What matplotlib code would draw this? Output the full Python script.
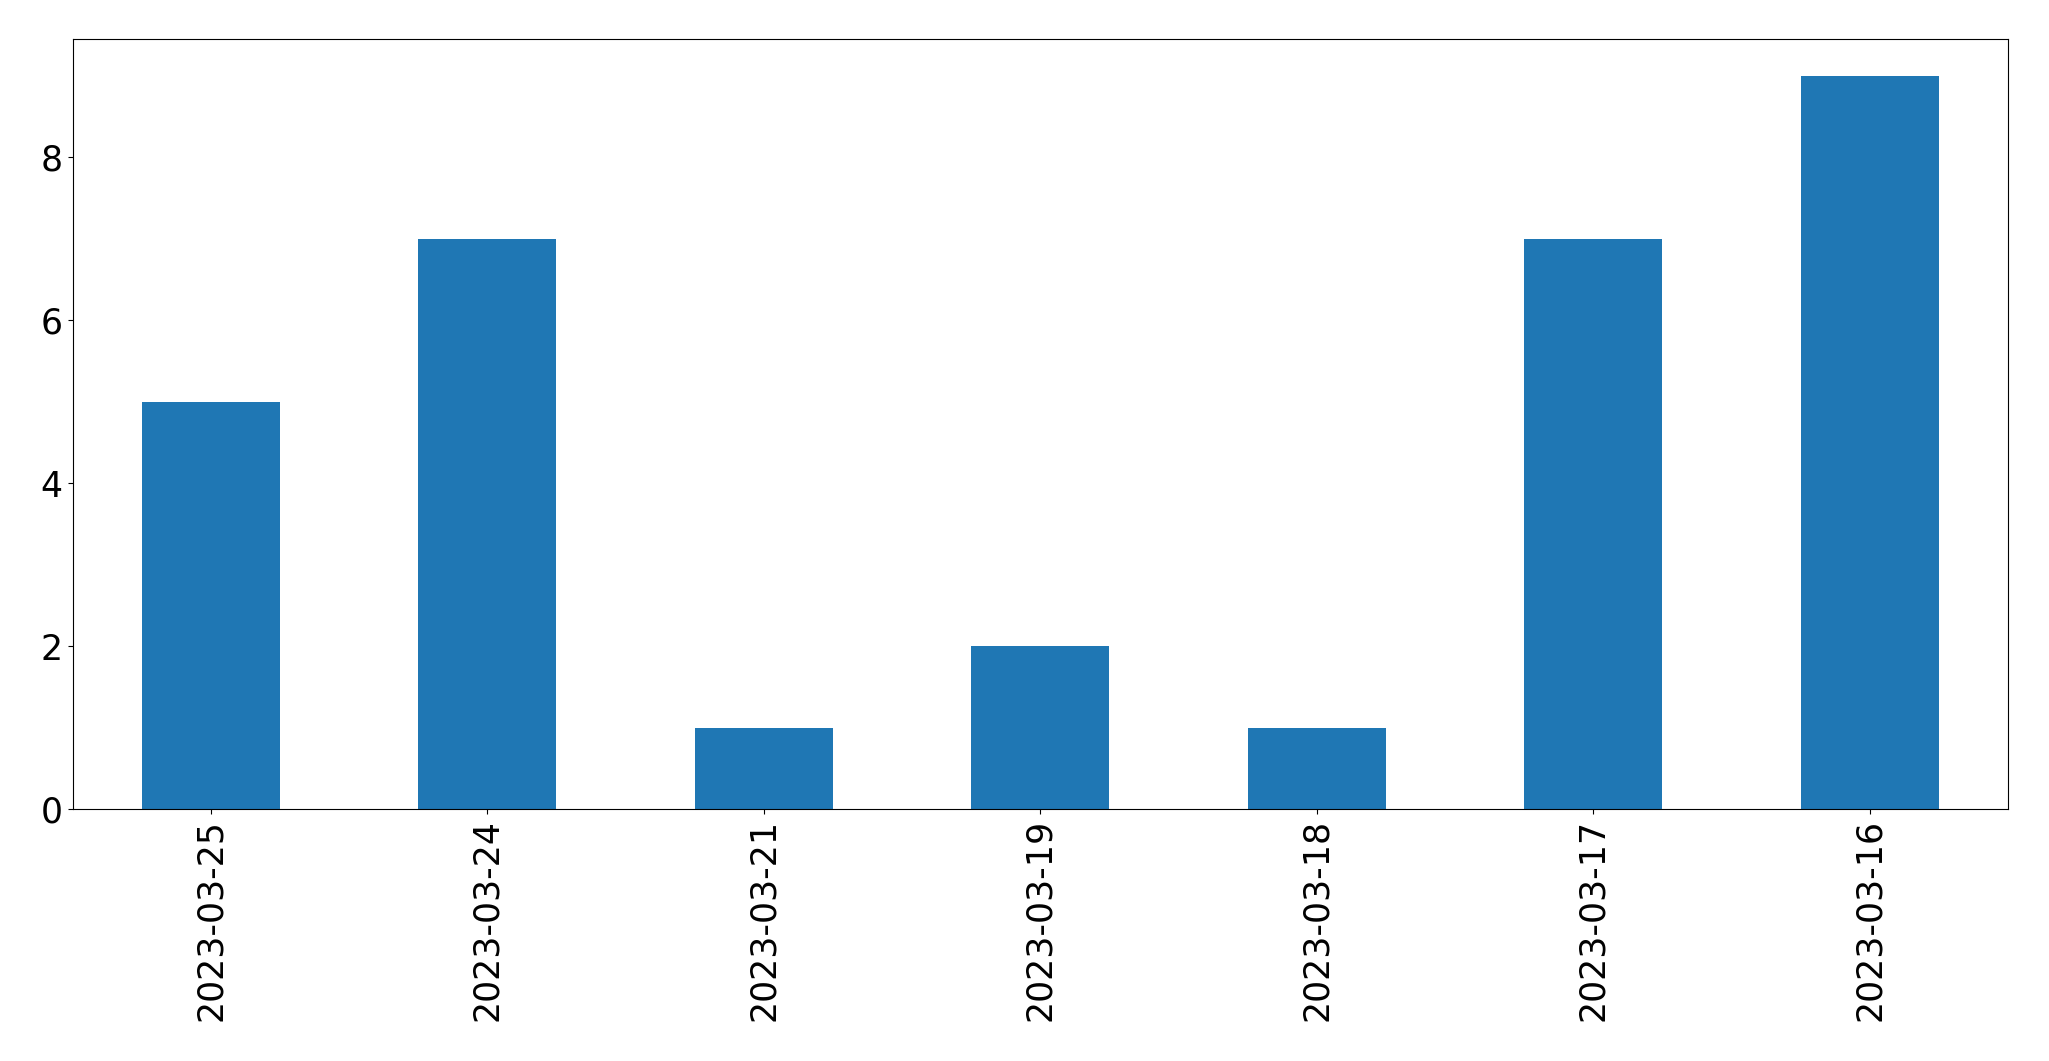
import matplotlib
matplotlib.use("Agg")
import matplotlib.pyplot as plt

dates = ["2023-03-25", "2023-03-24", "2023-03-21", "2023-03-19",
         "2023-03-18", "2023-03-17", "2023-03-16"]
counts = [5, 7, 1, 2, 1, 7, 9]

fig = plt.figure(figsize=(20.49, 10.61), dpi=100)
ax = fig.add_axes([72.5 / 2049, 1 - 809 / 1061, (2008 - 72.5) / 2049, (809 - 39) / 1061])
x = list(range(len(dates)))
ax.bar(x, counts, width=0.5, color="#1f77b4")
ax.set_xlim(-0.5, len(dates) - 0.5)
ax.set_ylim(0, max(counts) * 1.05)
ax.set_xticks(x)
ax.set_xticklabels(dates, rotation=90)
ax.set_yticks([0, 2, 4, 6, 8])
ax.tick_params(labelsize=25)
fig.savefig("out.png", dpi=100)
